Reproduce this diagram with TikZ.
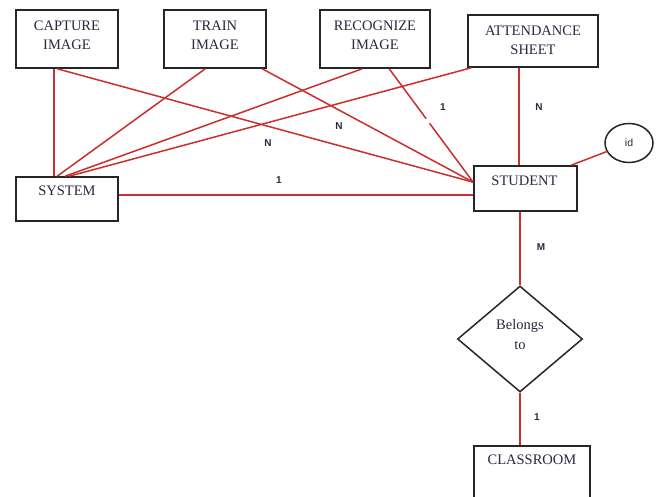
\documentclass[tikz,border=0pt]{standalone}
\usepackage{fontspec}
\setmainfont{Liberation Serif}
\setsansfont{Liberation Sans}
\usetikzlibrary{shapes.geometric,calc}
\definecolor{erred}{RGB}{204,45,45}
\definecolor{ink}{RGB}{40,40,65}
\begin{document}
\begin{tikzpicture}[x=1pt,y=-1pt,
  ent/.style={draw=black!85,line width=1.6pt,rectangle,inner sep=0pt},
  etext/.style={font=\fontsize{14.5}{19.5}\selectfont,text=ink,align=center,inner sep=0pt},
  rel/.style={draw=erred,line width=1.5pt},
  card/.style={font=\sffamily\bfseries\fontsize{10}{11}\selectfont,text=ink,inner sep=0pt}]
\fill[white] (0,0) rectangle (659,497);
\clip (0,0) rectangle (659,497);
% entities
\node[ent,minimum width=102pt,minimum height=58pt] (cap) at (67,39) {};
\node[etext] (capt) at ([yshift=3.5pt]cap.center) {CAPTURE\\IMAGE};
\node[ent,minimum width=102pt,minimum height=58pt] (trn) at (215,39) {};
\node[etext] (trnt) at ([yshift=3.5pt]trn.center) {TRAIN\\IMAGE};
\node[ent,minimum width=110pt,minimum height=58pt] (rec) at (375,39) {};
\node[etext] (rect) at ([yshift=3.5pt]rec.center) {RECOGNIZE\\IMAGE};
\node[ent,minimum width=130pt,minimum height=52pt] (att) at (533,41) {};
\node[etext] (attt) at ([yshift=0.5pt]att.center) {ATTENDANCE\\SHEET};
\node[ent,minimum width=102pt,minimum height=44pt] (sys) at (67,199) {};
\node[etext] (syst) at ([yshift=-15pt]sys.north) {SYSTEM};
\node[ent,minimum width=103pt,minimum height=45pt] (stu) at (525.5,188.5) {};
\node[etext] (stut) at ([yshift=-16pt,xshift=-1pt]stu.north) {STUDENT};
\node[ent,minimum width=116pt,minimum height=80pt] (cls) at (532,486) {};
\node[etext] (clst) at ([yshift=-15pt]cls.north) {CLASSROOM};
\node[draw=black!85,line width=1.5pt,ellipse,minimum width=48pt,minimum height=39pt,inner sep=0pt,
      font=\sffamily\fontsize{10.5}{12}\selectfont,text=ink] (id) at (629,143) {id};
\node[draw=black!85,line width=1.5pt,diamond,minimum width=125pt,minimum height=106pt,inner sep=0pt] (bel) at (520,339) {};
\node[etext] (belt) at ([yshift=4.5pt]bel.center) {Belongs\\to};
% relationships
\draw[rel] ([xshift=39pt]cap.south west) -- ([xshift=39pt]sys.north west);
\draw[rel] ([xshift=42pt]cap.south west) -- ([yshift=-17pt]stu.north west);
\draw[rel] ([xshift=42pt]trn.south west) -- ([xshift=42pt]sys.north west);
\draw[rel] ([xshift=99pt]trn.south west) -- ([yshift=-17pt]stu.north west);
\draw[rel] ([xshift=43pt]rec.south west) -- ([xshift=50pt]sys.north west);
\path ([xshift=70pt]rec.south west) -- ([yshift=-17pt]stu.north west)
  coordinate[pos=0.44] (g1) coordinate[pos=0.48] (g2);
\draw[rel] ([xshift=70pt]rec.south west) -- (g1) (g2) -- ([yshift=-17pt]stu.north west);
\draw[rel] ([xshift=4pt]att.south west) -- ([xshift=54pt]sys.north west);
\draw[rel] ([xshift=52pt]att.south west) -- ([xshift=46pt]stu.north west);
\draw[rel] ([yshift=4pt]sys.east) -- ([yshift=4pt]sys.east -| stu.west);
\draw[rel] ([xshift=98pt]stu.north west) -- (id);
\draw[rel] (bel.north |- stu.south) -- (bel.north);
\draw[rel] (bel.south) -- (bel.south |- cls.north);
% cardinalities
\node[card] (n1) at (268,143) {N};
\node[card] (n2) at (339,126) {N};
\node[card] (o1) at (443,107) {1};
\node[card] (n3) at (539,107) {N};
\node[card] (o2) at (279,180) {1};
\node[card] (m1) at (541,247) {M};
\node[card] (o3) at (537,417) {1};
\end{tikzpicture}
\end{document}
